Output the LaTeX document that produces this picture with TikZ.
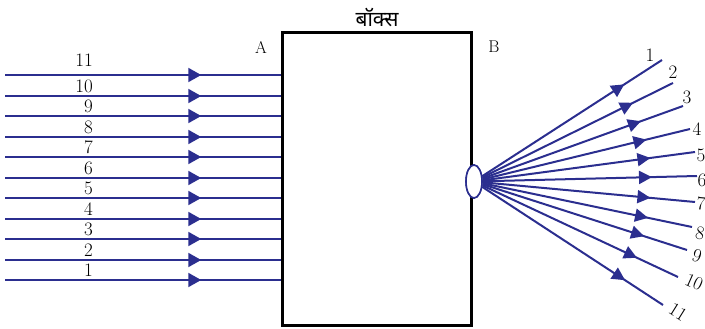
\documentclass[tikz,border=0pt]{standalone}
\usepackage{fontspec}
\newfontfamily\deva[Script=Devanagari]{Noto Sans}
\usetikzlibrary{arrows.meta,decorations.markings,shapes.geometric}
\definecolor{rayblue}{RGB}{43,46,143}
\begin{document}
\begin{tikzpicture}[x=1pt,y=-1pt,
  ray/.style={rayblue,line width=2pt},
  lmark/.style={postaction={decorate},decoration={markings,
     mark=at position 0.709 with {\arrow{Triangle[length=13pt,width=14pt]}}}},
  rmark/.style={postaction={decorate},decoration={markings,
     mark=at position 0.79 with {\arrow{Triangle[length=13pt,width=13pt]}}}},
  num/.style={font=\fontsize{19}{20}\selectfont, inner sep=0pt},
  lbl/.style={font=\fontsize{17}{18}\selectfont, inner sep=0pt},
  boxst/.style={draw=black, line width=2.4pt, minimum width=188pt, minimum height=292pt, inner sep=0pt},
  lens/.style={draw=rayblue, line width=1.6pt, fill=white, ellipse, minimum width=16pt, minimum height=33pt, inner sep=0pt}]
\useasboundingbox (0,0) rectangle (705,329);
% box
\node[boxst] (box) at (377,179) {};
\node[lbl] (A) at (261,47) {A};
\node[lbl] (B) at (494,47) {B};
\node[inner sep=0pt, font=\deva\fontsize{21}{24}\selectfont] (title) at (377,18) {बॉक्स};
% incoming rays
\foreach \k in {1,...,11}{
  \pgfmathsetmacro{\yy}{round(280-(\k-1)*20.5)}
  \coordinate (L\k) at (5,\yy);
  \draw[ray,lmark] (L\k) -- (L\k -| box.west);
  \ifnum\k=11
    \node[num,anchor=east] (n\k) at (93,\yy-15) {\k};
  \else
    \node[num,anchor=east] (n\k) at (93,\yy-9.5) {\k};
  \fi
}
\draw[boxst] (box.south west) rectangle (box.north east);
% lens
\node[lens] (e) at (474,181.5) {};
% outgoing rays
\foreach \k/\ex/\ey/\lx/\ly/\r in {
  1/662/60/650/55/0, 2/673/83/673/72/0, 3/683/106/687/97/0,
  4/690/129/697/129/0, 5/695/152/701/155/0, 6/697/176/702/180/0,
  7/695/202/701/204/-5, 8/692/227/700/233/-11, 9/687/250/697/256/-17,
  10/678/277/694/282/-24, 11/663/305/678/312/-32}{
  \coordinate (E\k) at (\ex,\ey);
  \draw[ray,rmark] (e) -- (E\k);
  \node[num,rotate=\r] (m\k) at (\lx,\ly) {\k};
}
\node[lens] at (e) {};
\end{tikzpicture}
\end{document}
